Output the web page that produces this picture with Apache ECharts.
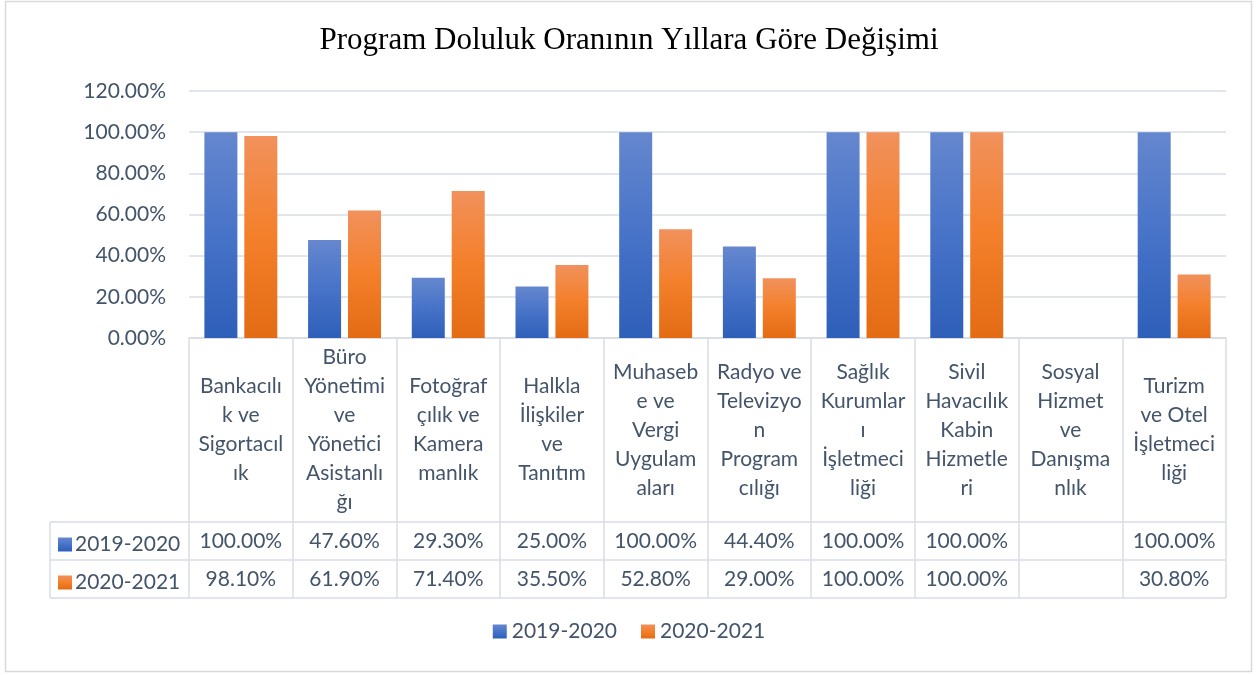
<!DOCTYPE html>
<html>
<head>
<meta charset="utf-8">
<script src="https://cdn.jsdelivr.net/npm/echarts@6/dist/echarts.min.js"></script>
<style>
	html, body { margin: 0; padding: 0; background: #fff; }
	#container { width: 1258px; height: 675px; }
</style>
</head>
<body>
<div id="container"></div>
<script>
// program names as they are wrapped in the data table header
var categories = [
	'Bankacılı\nk ve\nSigortacıl\nık',
	'Büro\nYönetimi\nve\nYönetici\nAsistanlı\nğı',
	'Fotoğraf\nçılık ve\nKamera\nmanlık',
	'Halkla\nİlişkiler\nve\nTanıtım',
	'Muhaseb\ne ve\nVergi\nUygulam\naları',
	'Radyo ve\nTelevizyo\nn\nProgram\ncılığı',
	'Sağlık\nKurumlar\nı\nİşletmeci\nliği',
	'Sivil\nHavacılık\nKabin\nHizmetle\nri',
	'Sosyal\nHizmet\nve\nDanışma\nnlık',
	'Turizm\nve Otel\nİşletmeci\nliği'
];
var seriesNames = ['2019-2020', '2020-2021'];
var data2019 = [1.0, 0.476, 0.293, 0.25, 1.0, 0.444, 1.0, 1.0, null, 1.0];
var data2020 = [0.981, 0.619, 0.714, 0.355, 0.528, 0.29, 1.0, 1.0, null, 0.308];
var yTicks = [0, 0.2, 0.4, 0.6, 0.8, 1.0, 1.2];

var textColor = '#44546A';
var lineColor = '#D9DDE4';
var font = 'Lato';

function pct(v) {
	return (v === null || v === undefined) ? '' : (v * 100).toFixed(2) + '%';
}

function grad(c1, c2, c3) {
	return new echarts.graphic.LinearGradient(0, 0, 0, 1, [
		{ offset: 0, color: c1 },
		{ offset: 0.5, color: c2 },
		{ offset: 1, color: c3 }
	]);
}
var blue = grad('#6587CE', '#4773C8', '#2E5FB9');
var orange = grad('#F1915C', '#F47F2A', '#E36B14');

var dom = document.getElementById('container');
var myChart = echarts.init(dom, null, { renderer: 'canvas' });

var gridLeft = 189, gridRight = 1226, axisY = 338;
var row1 = 522, row2 = 560, row3 = 598;

function valueAxis(values, margin) {
	return {
		type: 'category',
		data: values.map(pct),
		position: 'bottom',
		axisLine: { show: false },
		axisTick: { show: false },
		axisLabel: {
			interval: 0,
			margin: margin,
			verticalAlign: 'middle',
			color: textColor,
			fontFamily: font,
			fontSize: 21
		}
	};
}

var option = {
	backgroundColor: '#fff',
	animation: false,
	title: {
		text: 'Program Doluluk Oranının Yıllara Göre Değişimi',
		left: 'center',
		top: 20,
		textStyle: {
			fontFamily: 'Liberation Serif',
			fontWeight: 'normal',
			fontSize: 31,
			color: '#000'
		}
	},
	legend: [{
		data: seriesNames,
		bottom: 28,
		left: 'center',
		itemWidth: 14,
		itemHeight: 14,
		itemGap: 24,
		icon: 'rect',
		textStyle: { color: textColor, fontFamily: font, fontSize: 21, padding: [0, 0, 0, 0] }
	}, {
		data: [seriesNames[0]],
		left: 53,
		top: row1 + 19 - 12,
		itemWidth: 14,
		itemHeight: 14,
		icon: 'rect',
		selectedMode: false,
		textStyle: { color: textColor, fontFamily: font, fontSize: 21, padding: [0, 0, 0, -2] }
	}, {
		data: [seriesNames[1]],
		left: 53,
		top: row2 + 19 - 12,
		itemWidth: 14,
		itemHeight: 14,
		icon: 'rect',
		selectedMode: false,
		textStyle: { color: textColor, fontFamily: font, fontSize: 21, padding: [0, 0, 0, -2] }
	}],
	grid: {
		left: gridLeft,
		right: 1258 - gridRight,
		top: 91,
		bottom: 675 - axisY,
		containLabel: false
	},
	xAxis: [{
		type: 'category',
		data: categories,
		axisLine: { show: true, lineStyle: { color: lineColor, width: 1.5 } },
		axisTick: { show: true, length: row3 - axisY, lineStyle: { color: lineColor, width: 1.5 } },
		axisLabel: {
			interval: 0,
			margin: 92,
			verticalAlign: 'middle',
			align: 'center',
			lineHeight: 29,
			color: textColor,
			fontFamily: font,
			fontSize: 21
		}
	},
		valueAxis(data2019, row1 + 19 - axisY),
		valueAxis(data2020, row2 + 19 - axisY)
	],
	yAxis: {
		type: 'value',
		min: 0,
		max: yTicks[yTicks.length - 1],
		interval: 0.2,
		axisLine: { show: false },
		axisTick: { show: false },
		splitLine: { lineStyle: { color: lineColor, width: 1.5 } },
		axisLabel: {
			margin: 23,
			formatter: pct,
			color: textColor,
			fontFamily: font,
			fontSize: 21
		}
	},
	series: [{
		name: seriesNames[0],
		type: 'bar',
		data: data2019,
		barWidth: 33,
		barGap: '21%',
		itemStyle: { color: blue }
	}, {
		name: seriesNames[1],
		type: 'bar',
		data: data2020,
		barWidth: 33,
		barGap: '21%',
		itemStyle: { color: orange }
	}],
	graphic: [
		{ type: 'rect', shape: { x: 5.5, y: 1.5, width: 1246, height: 670 }, style: { fill: 'none', stroke: '#D9D9D9', lineWidth: 1.5 }, silent: true },
		{ type: 'line', shape: { x1: 50, y1: row1, x2: gridRight, y2: row1 }, style: { stroke: lineColor, lineWidth: 1.5 }, silent: true },
		{ type: 'line', shape: { x1: 50, y1: row2, x2: gridRight, y2: row2 }, style: { stroke: lineColor, lineWidth: 1.5 }, silent: true },
		{ type: 'line', shape: { x1: 50, y1: row3, x2: gridRight, y2: row3 }, style: { stroke: lineColor, lineWidth: 1.5 }, silent: true },
		{ type: 'line', shape: { x1: 50, y1: row1, x2: 50, y2: row3 }, style: { stroke: lineColor, lineWidth: 1.5 }, silent: true }
	]
};
myChart.setOption(option, true);
</script>
</body>
</html>
